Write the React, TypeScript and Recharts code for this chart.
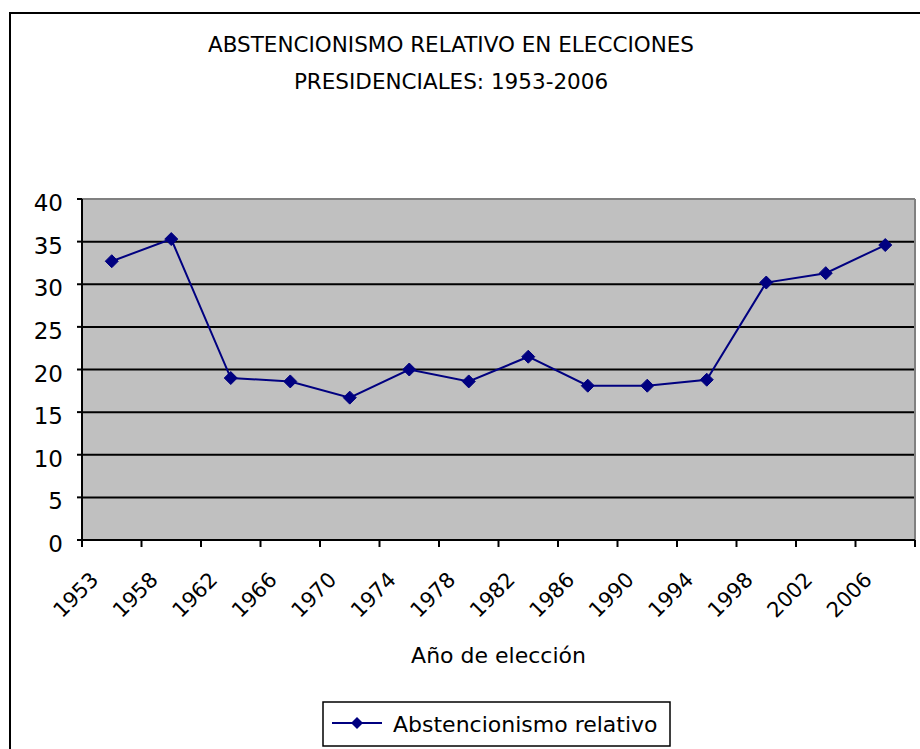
import { LineChart, Line, XAxis, YAxis, CartesianGrid, Legend, Label } from 'recharts'

const years = ['1953', '1958', '1962', '1966', '1970', '1974', '1978', '1982', '1986', '1990', '1994', '1998', '2002', '2006']
const abstention = [32.7, 35.3, 19.0, 18.6, 16.7, 20.0, 18.6, 21.5, 18.1, 18.1, 18.8, 30.2, 31.3, 34.6]
const yTicks = [0, 5, 10, 15, 20, 25, 30, 35, 40]

const seriesName = 'Abstencionismo relativo'
const titleLines = ['ABSTENCIONISMO RELATIVO EN ELECCIONES', 'PRESIDENCIALES: 1953-2006']
const xTitle = 'Año de elección'

const data = years.map((year, i) => ({ year, value: abstention[i] }))

const FONT = '"DejaVu Sans", Verdana, sans-serif'
const NAVY = '#000080'
// plot area spans 82..915, 14 bands
const HALF_BAND = (915 - 82) / years.length / 2

const Diamond = (props: any) => {
  const { cx, cy, index } = props
  if (cx == null || cy == null) return null
  const s = 6.5
  return (
    <path
      key={`d-${index}`}
      d={`M${cx},${cy - s} L${cx + s},${cy} L${cx},${cy + s} L${cx - s},${cy} Z`}
      fill={NAVY}
      stroke={NAVY}
      strokeWidth={1}
    />
  )
}

const XTick = (props: any) => {
  const { x, y, payload, index } = props
  const tx = x - 12
  const ty = y + 41
  return (
    <g>
      <line x1={x - HALF_BAND} x2={x - HALF_BAND} y1={y} y2={y + 7} stroke="#000" strokeWidth={2} />
      {index === years.length - 1 && (
        <line x1={x + HALF_BAND} x2={x + HALF_BAND} y1={y} y2={y + 7} stroke="#000" strokeWidth={2} />
      )}
      <text
        x={tx}
        y={ty}
        transform={`rotate(-45, ${tx}, ${ty})`}
        textAnchor="end"
        fontSize={21}
        fontFamily={FONT}
        fill="#000"
      >
        {payload.value}
      </text>
    </g>
  )
}

const YTick = (props: any) => {
  const { x, y, payload } = props
  return (
    <text x={x} y={y + 12} textAnchor="end" fontSize={23} fontFamily={FONT} fill="#000">
      {payload.value}
    </text>
  )
}

const LegendBox = ({ payload }: any) => (
  <svg width={349} height={46} style={{ display: 'block' }}>
    <rect x={1} y={1} width={347} height={44} fill="#fff" stroke="#000" strokeWidth={1.5} />
    {(payload || []).map((p: any, i: number) => (
      <g key={i}>
        <line x1={10} x2={60} y1={22} y2={22} stroke={p.color} strokeWidth={2} />
        <path d="M35,16 L41,22 L35,28 L29,22 Z" fill={p.color} />
        <text x={71} y={31} fontSize={22} fontFamily={FONT} fill="#000">
          {p.value}
        </text>
      </g>
    ))}
  </svg>
)

export default function App() {
  return (
    <div
      style={{
        position: 'fixed',
        left: 0,
        top: 0,
        width: 920,
        height: 749,
        overflow: 'hidden',
        background: '#fff',
      }}
    >
      {/* outer chart frame, runs off the right and bottom */}
      <div
        style={{
          position: 'absolute',
          left: 9,
          top: 12,
          width: 960,
          height: 800,
          border: '2px solid #000',
        }}
      />

      {/* Title */}
      <div
        style={{
          position: 'absolute',
          left: 0,
          top: 26,
          width: 902,
          textAlign: 'center',
          fontFamily: FONT,
          fontSize: 21.5,
          lineHeight: '37px',
          color: '#000',
        }}
      >
        {titleLines.map((t) => (
          <div key={t}>{t}</div>
        ))}
      </div>

      <div style={{ position: 'absolute', left: 0, top: 0 }}>
        <LineChart
          width={920}
          height={749}
          data={data}
          margin={{ top: 199, right: 5, left: 22, bottom: 109 }}
        >
          <CartesianGrid
            vertical={false}
            fill="#C0C0C0"
            fillOpacity={1}
            stroke="#000"
            strokeWidth={2}
          />
          <CartesianGrid
            horizontalCoordinatesGenerator={({ offset }: any) => [offset.top]}
            verticalCoordinatesGenerator={({ offset }: any) => [offset.left + offset.width]}
            stroke="#808080"
            strokeWidth={2}
          />
          <XAxis
            dataKey="year"
            interval={0}
            height={100}
            padding={{ left: HALF_BAND, right: HALF_BAND }}
            axisLine={{ stroke: '#000', strokeWidth: 2 }}
            tickLine={false}
            tickSize={0}
            tickMargin={0}
            tick={<XTick />}
          >
            <Label
              content={({ viewBox }: any) => (
                <text
                  x={viewBox.x + viewBox.width / 2}
                  y={viewBox.y + 123}
                  textAnchor="middle"
                  fontSize={22}
                  fontFamily={FONT}
                  fill="#000"
                >
                  {xTitle}
                </text>
              )}
            />
          </XAxis>
          <YAxis
            width={60}
            domain={[0, 40]}
            ticks={yTicks}
            interval={0}
            axisLine={{ stroke: '#000', strokeWidth: 2 }}
            tickLine={{ stroke: '#000', strokeWidth: 2 }}
            tickSize={5}
            tickMargin={14}
            tick={<YTick />}
          />
          <Legend
            layout="horizontal"
            verticalAlign="middle"
            align="center"
            wrapperStyle={{ left: 322, top: 701, width: 349, height: 46 }}
            content={<LegendBox />}
          />
          <Line
            type="linear"
            dataKey="value"
            name={seriesName}
            stroke={NAVY}
            strokeWidth={2}
            dot={Diamond}
            activeDot={false}
            isAnimationActive={false}
          />
        </LineChart>
      </div>
    </div>
  )
}
